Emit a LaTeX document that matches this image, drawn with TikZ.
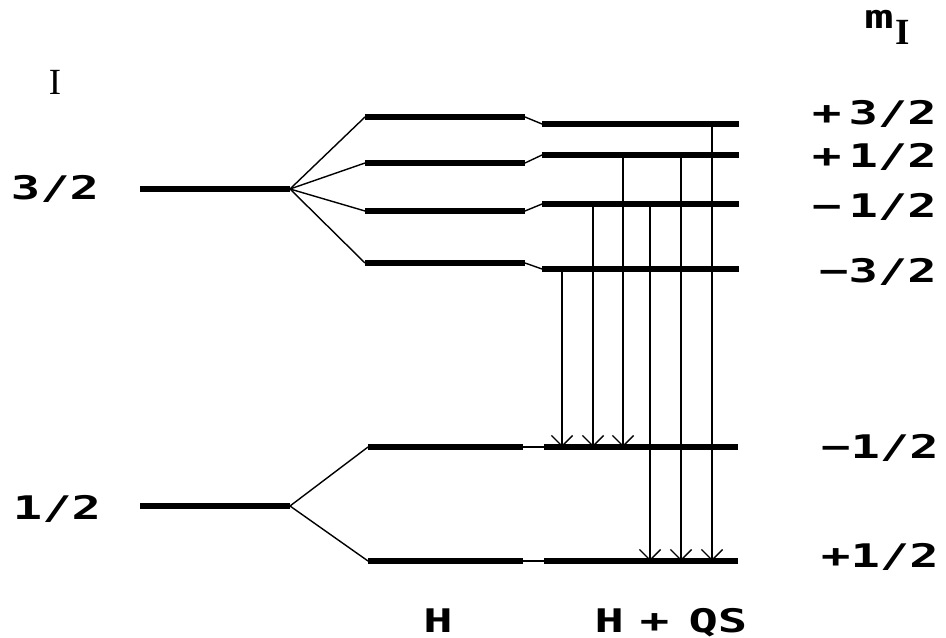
\documentclass[tikz,border=0pt]{standalone}
\usepackage{fontspec}
\usetikzlibrary{arrows.meta}
\newfontfamily\lvlfont{DejaVu Sans Mono}[FakeStretch=1.5]
\newfontfamily\serfont{Liberation Serif}
\tikzset{
  level/.style = {line width=3.2pt},
  link/.style  = {line width=0.8pt},
  trans/.style = {-{Straight Barb[length=6pt,width=12pt]}, line width=0.8pt},
  qn/.style    = {font=\lvlfont\bfseries\fontsize{18.5pt}{20pt}\selectfont, inner sep=0pt},
  spin/.style  = {font=\serfont\fontsize{21pt}{23pt}\selectfont, inner sep=0pt},
}
\begin{document}
\begin{tikzpicture}[x=0.02cm, y=-0.02cm]
    \useasboundingbox (0,0) rectangle (946,638);
    % headings
    \node[spin, anchor=base] (ilab) at (55,95) {I};
    \node[qn, anchor=base west] (mlab) at (864,29) {m\kern1pt\raisebox{-9pt}{\serfont\fontsize{21pt}{23pt}\selectfont I}};
    \node[qn, anchor=base] (hlab) at (438,632) {H};
    \node[qn, anchor=base] (hqlab) at (671,632) {H\kern9pt+\kern11pt QS};
    % I = 3/2
    \node[qn, anchor=base] (s32) at (55,200) {3/2};
    \coordinate (g32) at (290,189);
    \draw[level] (140,189) -- (g32);
    \foreach \n/\yh/\yq in {a/117/124, b/163/155, c/211/204, d/263/269} {
      \coordinate (h\n) at (365,\yh);
      \coordinate (q\n) at (542,\yq);
      \draw[link] (g32) -- (h\n);
      \draw[level] (h\n) -- (525,\yh) coordinate (he\n);
      \draw[link] (he\n) -- (q\n);
      \draw[level] (q\n) -- (739,\yq);
    }
    % I = 1/2
    \node[qn, anchor=base] (s12) at (57,519) {1/2};
    \coordinate (g12) at (290,506);
    \draw[level] (140,506) -- (g12);
    \foreach \n/\y in {a/447, b/561} {
      \coordinate (k\n) at (368,\y);
      \draw[link] (g12) -- (k\n);
      \draw[level] (k\n) -- (523,\y) coordinate (ke\n);
      \draw[link] (ke\n) -- (544,\y) coordinate (l\n);
      \draw[level] (l\n) -- (738,\y);
    }
    % m_I labels
    \node[qn, anchor=base east] (ma) at (937,125) {+\kern4pt3/2};
    \node[qn, anchor=base east] (mb) at (937,168) {+\kern4pt1/2};
    \node[qn, anchor=base east] (mc) at (937,218) {−\kern4pt1/2};
    \node[qn, anchor=base east] (md) at (937,283) {−3/2};
    \node[qn, anchor=base east] (me) at (939,458) {−1/2};
    \node[qn, anchor=base east] (mf) at (939,567) {+1/2};
    % transitions
    \foreach \x/\from/\to in {562/qd/la, 593/qc/la, 623/qb/la, 650/qc/lb, 681/qb/lb, 712/qa/lb}
      \draw[trans] (\x,0 |- \from) -- (\x,0 |- \to);
\end{tikzpicture}
\end{document}
